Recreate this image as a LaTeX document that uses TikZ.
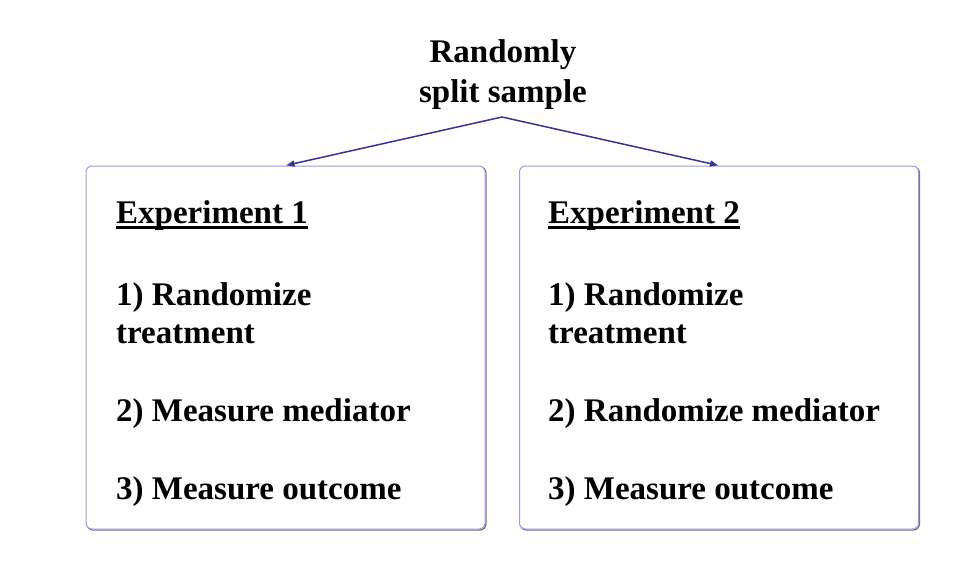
\documentclass[tikz,border=0pt]{standalone}
\usepackage{fontspec}
\setmainfont{Liberation Serif}
\usetikzlibrary{arrows.meta}
\definecolor{boxline}{HTML}{9A9AE6}
\definecolor{arrowc}{HTML}{33339A}
\newcommand{\myul}[1]{\setbox0\hbox{#1}\rlap{\rule[-6pt]{\wd0}{2.6pt}}\box0}
\tikzset{
  expbox/.style={draw=boxline, line width=1pt, rounded corners=6pt, minimum width=399pt, minimum height=363pt, inner sep=0pt},
  shadowbox/.style={draw=black!55, line width=1.2pt, rounded corners=6pt, minimum width=399pt, minimum height=363pt, inner sep=0pt},
  txt/.style={anchor=base west, inner sep=0pt, font=\fontsize{33}{37}\selectfont\bfseries},
  conn/.style={draw=arrowc, line width=1.5pt, -{Latex[length=9pt,width=7pt]}}
}
\begin{document}
\begin{tikzpicture}[x=1pt,y=-1pt]
\useasboundingbox (0,0) rectangle (978,584);
% title
\node[align=center, inner sep=0pt, font=\fontsize{33}{40}\selectfont\bfseries] (title) at (503,75) {Randomly\\split sample};
\coordinate (apex) at (502,117);
% boxes (shadow + box)
\node[shadowbox] (s1) at (286.5,348.5) {};
\node[shadowbox] (s2) at (720,348.5) {};
\node[expbox, fill=white] (box1) at (285.5,347.5) {};
\node[expbox, fill=white] (box2) at (719,347.5) {};
% connectors
\draw[conn] (apex) -- (box1.north);
\draw[conn] (apex) -- (box2.north);
% box 1 text
\node[txt] (e1h) at (116,223) {\myul{Experiment 1}};
\node[txt] (e1a) at (116,305) {1) Randomize};
\node[txt] (e1b) at (116,343) {treatment};
\node[txt] (e1c) at (116,421) {2) Measure mediator};
\node[txt] (e1d) at (116,499) {3) Measure outcome};
% box 2 text
\node[txt] (e2h) at (548,223) {\myul{Experiment 2}};
\node[txt] (e2a) at (548,305) {1) Randomize};
\node[txt] (e2b) at (548,343) {treatment};
\node[txt] (e2c) at (548,421) {2) Randomize mediator};
\node[txt] (e2d) at (548,499) {3) Measure outcome};
\end{tikzpicture}
\end{document}
